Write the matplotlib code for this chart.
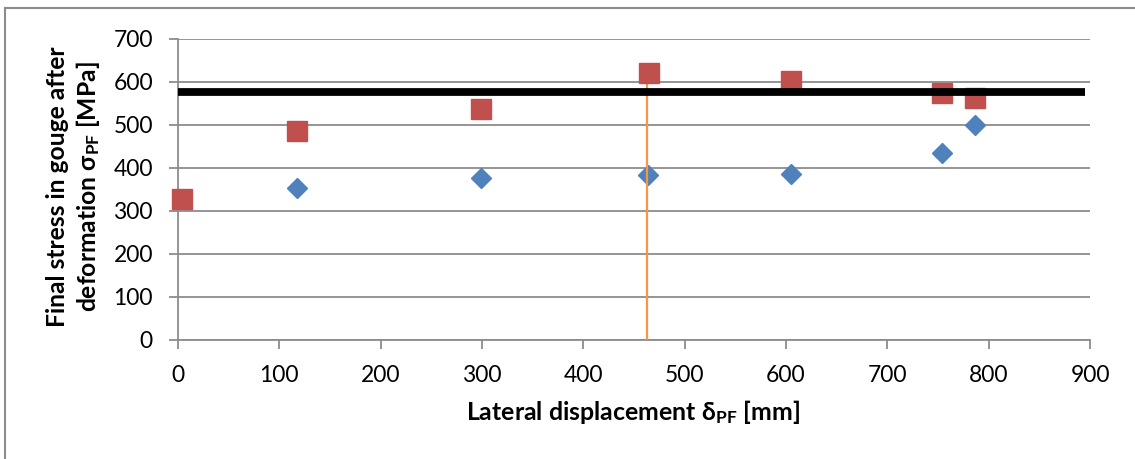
import matplotlib
matplotlib.use("Agg")
import matplotlib.pyplot as plt
from matplotlib.lines import Line2D

# Final stress in the gouge vs. lateral displacement
disp_red = [4, 117, 299, 465, 605, 754, 786]
stress_red = [326, 486, 536, 619, 601, 573, 562]

disp_blue = [117, 299, 464, 605, 754, 786]
stress_blue = [352, 376, 383, 384, 434, 499]

# Horizontal reference level and vertical marker
ref_x = [0, 895]
ref_stress = [575, 575]
mark_x = [463, 463]
mark_stress = [0, 619]

xticks = list(range(0, 901, 100))
yticks = list(range(0, 701, 100))

plt.rcParams['font.family'] = ['Lato', 'DejaVu Sans']
plt.rcParams['mathtext.default'] = 'regular'

fig = plt.figure(figsize=(11.35, 4.59), dpi=100)
ax = fig.add_axes([0.1568, 0.2603, 0.8036, 0.6558])

grid_c = '#8c8c8c'
ax.set_xlim(0, 900)
ax.set_ylim(0, 700)
ax.set_xticks(xticks)
ax.set_yticks(yticks)
ax.yaxis.grid(True, color=grid_c, linewidth=1.3)
ax.set_axisbelow(True)
for s in ['top', 'right']:
    ax.spines[s].set_visible(False)
for s in ['left', 'bottom']:
    ax.spines[s].set_color(grid_c)
    ax.spines[s].set_linewidth(1.3)
ax.tick_params(axis='both', direction='out', length=6.5, width=1.3,
               color=grid_c, labelsize=16.5, labelcolor='black')
ax.tick_params(axis='x', pad=12)
ax.tick_params(axis='y', pad=11.5)

ax.plot(disp_blue, stress_blue, linestyle='none', marker='D', markersize=10.5,
        color='#4F81BD', zorder=3, clip_on=False)
ax.plot(mark_x, mark_stress, color='#F79646', linewidth=1.6, zorder=4)
ax.plot(disp_red, stress_red, linestyle='none', marker='s', markersize=14.4,
        color='#C0504D', zorder=5, clip_on=False)
ax.plot(ref_x, ref_stress, color='black', linewidth=5.6, zorder=6,
        solid_capstyle='butt')

fig.text(0.5581, 1 - 420 / 459, r'Lateral displacement δ$_{\mathregular{PF}}$ [mm]',
         ha='center', va='baseline', fontsize=17.9, fontweight='bold')

fig.text(0.0652, 0.5926,
         'Final stress in gouge after\n' + r'deformation σ$_{\mathregular{PF}}$ [MPa]',
         rotation=90, ha='center', va='center', multialignment='center',
         fontsize=17.7, fontweight='bold', linespacing=1.25)

# outer chart frame
fig.add_artist(Line2D([5 / 1135, 1.0], [1 - 8 / 459, 1 - 8 / 459],
                      transform=fig.transFigure, color='#8c8c8c', linewidth=1.5))
fig.add_artist(Line2D([5 / 1135, 5 / 1135], [0.0, 1 - 8 / 459],
                      transform=fig.transFigure, color='#8c8c8c', linewidth=1.5))

fig.savefig('out.png', dpi=100)
